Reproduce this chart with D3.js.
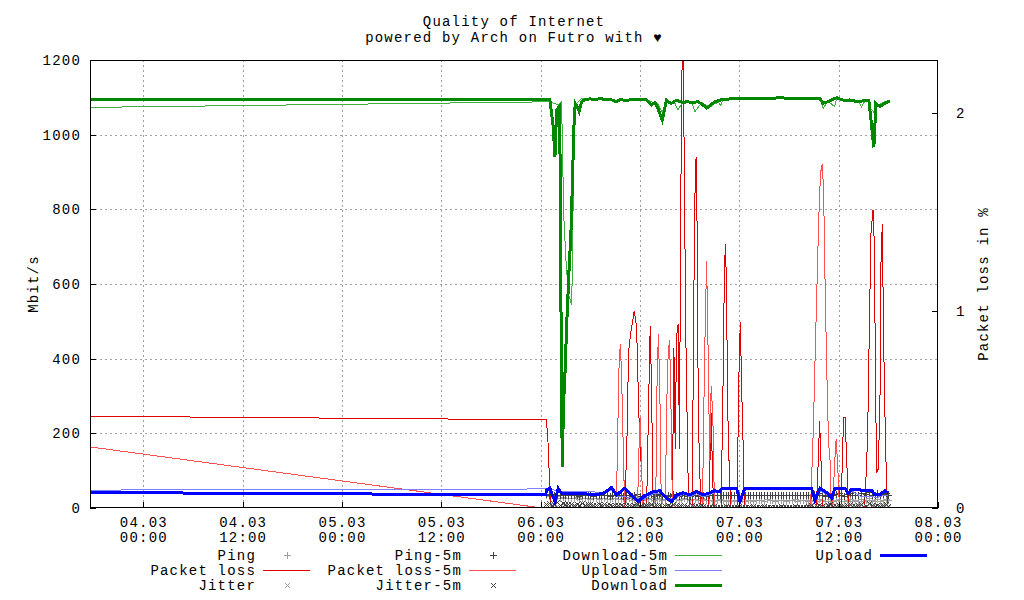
<!DOCTYPE html>
<html>
<head>
<meta charset="utf-8">
<script src="https://cdn.jsdelivr.net/npm/d3@7"></script>
<style>
  body { margin: 0; background: #fff; }
  svg text { font-family: "Liberation Mono", "DejaVu Sans Mono", monospace; font-size: 14px; letter-spacing: 1.2px; fill: #000; }
</style>
</head>
<body>
<div id="chart"></div>
<script>
// all times are hours relative to 06.03 00:00
var baseDate = new Date(2024, 2, 6, 0, 0);
function hrs(h) { return new Date(baseDate.getTime() + h * 3600e3); }

// Download (Mbit/s)
var dlHours = [-54.5, 0.88, 1.12, 1.52, 1.73, 1.93, 2.25, 2.42, 2.45, 2.54, 2.66, 2.73, 2.93, 3.14, 3.45, 3.66, 3.86, 4.02, 4.18, 4.42, 4.66, 4.95, 5.35, 5.95, 6.56, 7.16, 7.77, 8.37, 8.73, 9.18, 9.58, 10.18, 10.78, 11.39, 11.99, 12.72, 13.41, 13.8, 14.17, 14.69, 14.89, 15.22, 15.5, 15.82, 16.22, 16.59, 17.19, 17.67, 18.24, 19.0, 19.48, 20.05, 20.57, 21.05, 21.65, 22.02, 23.47, 25.28, 26.49, 27.69, 28.9, 30.1, 31.31, 32.52, 33.73, 34.13, 34.7, 35.75, 36.75, 37.36, 38.36, 39.17, 39.65, 39.89, 40.17, 40.25, 40.37, 40.49, 40.98, 41.58, 42.19];
var dlValues = [1093, 1093, 1093, 1021, 941, 1066, 1075, 844, 576, 236, 111, 262, 352, 486, 646, 736, 887, 1021, 1084, 1075, 1062, 1088, 1094, 1096, 1093, 1097, 1094, 1095, 1092, 1088, 1094, 1092, 1093, 1094, 1095, 1094, 1080, 1086, 1070, 1039, 1060, 1093, 1086, 1084, 1090, 1091, 1085, 1089, 1086, 1088, 1082, 1071, 1080, 1088, 1092, 1095, 1096, 1097, 1098, 1097, 1099, 1097, 1097, 1096, 1097, 1084, 1088, 1099, 1091, 1093, 1088, 1092, 1091, 1044, 981, 966, 1021, 1084, 1075, 1084, 1091];

// Download-5m
var dl5Hours = [-54.5, 0.88, 1.12, 2.12, 2.54, 2.66, 2.82, 3.06, 3.34, 3.75, 3.82, 3.94, 4.06, 4.35, 4.95, 5.95, 7.16, 8.37, 9.18, 10.18, 11.39, 12.72, 13.41, 14.17, 14.69, 15.22, 16.22, 16.59, 17.19, 18.24, 18.64, 19.48, 20.05, 20.57, 21.05, 21.53, 21.77, 22.02, 26.0, 30.0, 33.73, 34.13, 34.7, 35.51, 35.75, 36.75, 37.36, 38.36, 38.76, 39.17, 39.65, 39.89, 40.25, 40.49, 40.98, 41.58, 42.19];
var dl5Values = [1073, 1088, 1088, 1080, 1088, 932, 771, 664, 576, 544, 629, 843, 1021, 1084, 1097, 1094, 1096, 1094, 1090, 1093, 1096, 1095, 1088, 1082, 1060, 1088, 1084, 1066, 1088, 1088, 1062, 1086, 1078, 1075, 1084, 1086, 1077, 1094, 1097, 1097, 1097, 1071, 1090, 1075, 1097, 1092, 1093, 1090, 1075, 1090, 1090, 1070, 1060, 1075, 1082, 1088, 1090];

// Upload
var ulHours = [-54.5, 0.6, 0.72, 1.12, 1.73, 2.12, 2.54, 3.14, 3.94, 5.15, 6.36, 7.57, 8.57, 9.18, 10.18, 10.78, 11.79, 12.4, 13.6, 14.41, 15.02, 15.82, 16.43, 17.23, 18.04, 18.85, 19.65, 20.45, 21.05, 21.65, 21.9, 23.68, 24.07, 24.68, 32.72, 33.13, 33.73, 34.74, 35.14, 35.55, 36.75, 37.15, 37.56, 38.77, 39.98, 40.37, 40.98, 41.58, 41.99];
var ulValues = [41.5, 35, 48, 53, 17, 53, 39, 39, 37.5, 39, 35, 39, 55, 35, 53, 39, 17, 30, 44, 46, 30, 17, 35, 41, 35, 44, 35, 41, 46, 44, 53, 53, 17, 53, 53, 21, 53, 39, 26, 53, 53, 39, 50, 48, 48, 35, 37, 46, 41];

// Upload-5m
var ul5Hours = [-54.5, 0.6, 1.12, 2.12, 3.14, 5.15, 7.57, 8.57, 9.18, 10.18, 11.79, 12.4, 13.6, 14.41, 15.02, 15.82, 16.43, 17.23, 18.04, 18.85, 19.65, 20.45, 21.65, 21.9, 23.68, 24.07, 24.68, 32.72, 33.13, 33.73, 34.74, 35.14, 35.55, 36.75, 37.15, 37.56, 38.77, 39.98, 40.37, 40.98, 41.58, 41.99];
var ul5Values = [48, 51, 50, 46, 44, 44, 42, 48, 30, 30, 25, 22, 38, 40, 28, 24, 28, 36, 30, 38, 30, 36, 46, 52, 52, 30, 52, 52, 22, 45, 35, 28, 48, 50, 35, 46, 30, 32, 28, 30, 35, 32];

// Packet loss (%)
var plHours = [-54.5, 0.7, 0.93, 1.05, 1.2, 10.18, 10.46, 10.62, 10.88, 11.1, 11.3, 11.59, 11.8, 11.92, 12.2, 12.4, 12.8, 13.08, 13.24, 13.4, 13.6, 15.9, 16.1, 16.26, 16.42, 16.6, 16.78, 16.9, 17.02, 17.15, 17.3, 17.42, 17.55, 17.8, 18.0, 18.3, 18.55, 18.65, 18.78, 18.9, 19.0, 19.13, 19.35, 20.3, 20.5, 20.6, 20.75, 20.9, 21.8, 21.95, 22.05, 22.2, 22.33, 22.45, 22.6, 22.8, 23.0, 23.75, 23.9, 24.12, 24.3, 24.45, 24.6, 33.3, 33.5, 33.7, 33.9, 34.05, 36.3, 36.5, 36.62, 36.78, 36.92, 37.05, 37.2, 39.1, 39.3, 39.5, 39.7, 39.9, 40.15, 40.33, 40.45, 40.62, 40.8, 41.0, 41.12, 41.27, 41.42, 41.55, 41.75, 41.9, 42.19];
var plValues = [0.465, 0.447, 0.31, 0.16, 0, 0, 0.4, 0.79, 0.89, 0.94, 1.0, 0.92, 0.58, 0.41, 0.18, 0, 0, 0.6, 0.92, 0.6, 0, 0, 0.81, 0.3, 0.87, 0.93, 0.3, 1.41, 1.98, 2.5, 1.98, 1.41, 0.84, 0.18, 0, 0, 1.26, 1.6, 1.78, 1.43, 0.75, 0.33, 0, 0, 0.3, 0.48, 0.2, 0, 0, 0.4, 0.67, 1.2, 1.34, 1.12, 0.5, 0.17, 0, 0, 0.58, 0.94, 0.58, 0.34, 0, 0, 0.2, 0.44, 0.2, 0, 0, 0.33, 0.46, 0.46, 0.3, 0.16, 0, 0, 0.15, 0.36, 0.89, 1.39, 1.51, 1.31, 0.58, 0.18, 0.2, 0.58, 1.26, 1.44, 0.9, 0.55, 0.18, 0, 0];

// Packet loss-5m (%)
var pl5Hours = [-54.5, 0.2, 9.05, 9.25, 9.37, 9.5, 9.65, 9.82, 9.98, 10.15, 11.7, 11.88, 12.03, 12.2, 12.35, 13.9, 14.05, 14.22, 14.4, 14.58, 15.05, 15.25, 15.42, 15.58, 15.75, 15.92, 19.55, 19.8, 20.05, 20.25, 20.42, 20.6, 20.8, 21.0, 32.6, 32.75, 32.95, 33.2, 33.5, 33.7, 33.9, 34.05, 34.2, 34.38, 34.58, 34.78, 34.98, 35.12, 35.25, 35.55, 35.7, 35.9, 36.1, 42.19];
var pl5Values = [0.31, 0, 0, 0.21, 0.51, 0.77, 0.83, 0.6, 0.31, 0, 0, 0.3, 0.46, 0.2, 0, 0, 0.6, 0.88, 0.6, 0, 0, 0.55, 0.8, 0.85, 0.5, 0, 0, 0.75, 1.25, 0.75, 0.24, 0.62, 0.47, 0, 0, 0.17, 0.41, 0.84, 1.32, 1.6, 1.73, 1.74, 1.56, 1.09, 0.67, 0.33, 0.23, 0, 0, 0.25, 0.35, 0.2, 0, 0];

// Ping / Jitter (ms), one reading every 20 minutes from 06.03 00:40
var markStart = 0.67, markStep = 1 / 3;
var pingValues = [36, 31, 34, 29, 31, 28, 30, 27,
  28, 26, 27, 29, 25, 27, 26, 28, 24, 26, 27, 25, 26, 28, 24, 25, 27, 26, 23, 25, 26,
  24, 27, 22, 25, 29, 23, 21, 26, 24, 28, 22, 25, 27, 21, 24, 26, 23, 28, 25, 22, 24, 27, 23, 21, 25, 24, 22, 26, 23, 21,
  21, 22, 20, 21, 23, 21, 20, 22, 21, 20, 22, 21, 23, 20, 21, 22, 20, 21, 22, 21, 20, 23, 21, 22, 20, 21, 22, 21, 20, 22, 21, 23, 20, 21, 22, 21,
  20, 18, 22, 19, 24, 21, 18, 20, 23, 19, 21, 25, 20, 18, 22, 24, 19, 21, 20, 23, 18, 22, 26, 21, 19, 24, 20, 22, 25, 21];
var ping5Values = [38, 35, 37, 34, 36, 35, 34, 36,
  35, 34, 36, 35, 33, 35, 36, 34, 35, 33, 36, 35, 34, 36, 35, 33, 34, 36, 35, 34, 33,
  34, 36, 31, 35, 38, 33, 30, 36, 34, 37, 32, 35, 38, 31, 34, 36, 33, 37, 35, 32, 34, 36, 33, 31, 35, 34, 32, 36, 34, 33,
  35, 34, 36, 35, 34, 35, 36, 34, 35, 36, 35, 34, 35, 36, 34, 35, 35, 36, 34, 35, 36, 35, 34, 35, 36, 35, 34, 36, 35, 34, 35, 36, 35, 34, 36, 35,
  36, 34, 38, 35, 40, 36, 33, 35, 39, 34, 37, 41, 35, 33, 38, 40, 34, 36, 35, 39, 33, 37, 42, 36, 34, 40, 35, 37, 41, 36];
var jitterValues = [6, 9, 4, 7, 5, 8, 4, 6,
  5, 3, 6, 4, 7, 3, 5, 8, 4, 6, 3, 5, 7, 4, 6, 3, 5, 4, 6, 3, 5,
  4, 7, 3, 5, 9, 4, 2, 6, 5, 8, 3, 4, 7, 2, 5, 6, 3, 8, 4, 3, 5, 7, 3, 2, 6, 4, 3, 5, 4, 2,
  3, 2, 4, 3, 2, 3, 4, 2, 3, 2, 3, 4, 2, 3, 3, 2, 4, 3, 2, 3, 4, 3, 2, 3, 3, 2, 4, 3, 2, 3, 3, 4, 2, 3, 2, 3,
  3, 5, 2, 4, 7, 3, 2, 5, 8, 3, 4, 6, 2, 3, 7, 9, 4, 3, 5, 8, 2, 4, 10, 5, 3, 7, 4, 5, 9, 4];
var jitter5Values = [10, 14, 8, 12, 15, 9, 13, 11,
  10, 12, 8, 11, 9, 13, 7, 10, 12, 8, 9, 11, 7, 10, 8, 9, 6, 8, 7, 9, 6,
  7, 9, 5, 8, 11, 6, 4, 8, 7, 10, 5, 7, 9, 4, 6, 8, 5, 10, 7, 5, 6, 9, 5, 4, 7, 6, 5, 8, 6, 4,
  4, 3, 5, 4, 3, 4, 5, 3, 4, 3, 4, 5, 3, 4, 4, 3, 5, 4, 3, 4, 5, 4, 3, 4, 4, 3, 5, 4, 3, 4, 4, 5, 3, 4, 3, 4,
  5, 7, 4, 6, 9, 5, 4, 7, 10, 5, 6, 8, 4, 5, 9, 12, 6, 5, 7, 11, 4, 6, 13, 7, 5, 9, 6, 7, 12, 6];

var yTicks = [0, 200, 400, 600, 800, 1000, 1200];
var y2Ticks = [0, 1, 2];

var width = 1024, height = 600;
var margin = {top: 60, right: 86, bottom: 92, left: 90};
var plotW = width - margin.left - margin.right;
var plotH = height - margin.top - margin.bottom;

var x = d3.scaleTime().domain([hrs(-54.43), hrs(48)]).range([0, plotW]);
var y = d3.scaleLinear().domain([0, 1200]).range([plotH, 0]);
var y2 = d3.scaleLinear().domain([0, 2.27]).range([plotH, 0]);

var svg = d3.select("#chart").append("svg")
    .attr("width", width).attr("height", height);

// title
svg.append("text").attr("x", 514).attr("y", 26).attr("text-anchor", "middle").text("Quality of Internet");
svg.append("text").attr("x", 514).attr("y", 42).attr("text-anchor", "middle").text("powered by Arch on Futro with \u2665");

var g = svg.append("g").attr("transform", "translate(" + margin.left + "," + margin.top + ")");

g.append("clipPath").attr("id", "clip")
  .append("rect").attr("width", plotW).attr("height", plotH);

// grid
var xTicks = x.ticks(d3.timeHour.every(12)).filter(function(d) { return x(d) > 1 && x(d) < plotW - 1; });
g.selectAll(".gx").data(xTicks).enter().append("line")
  .attr("x1", function(d) { return Math.round(x(d)) + 0.5; })
  .attr("x2", function(d) { return Math.round(x(d)) + 0.5; })
  .attr("y1", 0).attr("y2", plotH)
  .attr("stroke", "#a0a0a0").attr("stroke-dasharray", "2,3");
g.selectAll(".gy").data(yTicks.slice(1, -1)).enter().append("line")
  .attr("x1", 0).attr("x2", plotW)
  .attr("y1", function(d) { return Math.round(y(d)) + 0.5; })
  .attr("y2", function(d) { return Math.round(y(d)) + 0.5; })
  .attr("stroke", "#a0a0a0").attr("stroke-dasharray", "2,3");

var plot = g.append("g").attr("clip-path", "url(#clip)");

function pts(hours, values) {
  return hours.map(function(h, i) { return {t: hrs(h), v: values[i]}; });
}
function marks(values) {
  return values.map(function(v, i) { return {t: hrs(markStart + i * markStep), v: v}; });
}

var lineY = d3.line().x(function(d) { return x(d.t); }).y(function(d) { return y(d.v); });
var lineY2 = d3.line().x(function(d) { return x(d.t); }).y(function(d) { return y2(d.v); });

var plusPath = "M-3,0.5H4M0.5,-3V4";
var crossPath = "M-2,-2L3,3M-2,3L3,-2";

function drawMarks(data, path, color) {
  plot.append("g").selectAll("path").data(data).enter().append("path")
    .attr("transform", function(d) { return "translate(" + Math.round(x(d.t)) + "," + Math.round(y(d.v)) + ")"; })
    .attr("d", path).attr("stroke", color).attr("stroke-width", 1).attr("fill", "none")
    .attr("shape-rendering", "crispEdges");
}
function drawLine(data, gen, color, w) {
  plot.append("path").datum(data).attr("d", gen)
    .attr("fill", "none").attr("stroke", color).attr("stroke-width", w)
    .attr("shape-rendering", "crispEdges");
}

var series = [
  {name: "Ping", type: "mark", path: plusPath, color: "#a0a0a0", data: marks(pingValues)},
  {name: "Packet loss", type: "line", gen: lineY2, color: "#e00000", w: 1, data: pts(plHours, plValues)},
  {name: "Jitter", type: "mark", path: crossPath, color: "#a0a0a0", data: marks(jitterValues)},
  {name: "Ping-5m", type: "mark", path: plusPath, color: "#404040", data: marks(ping5Values)},
  {name: "Packet loss-5m", type: "line", gen: lineY2, color: "#ff5050", w: 1, data: pts(pl5Hours, pl5Values)},
  {name: "Jitter-5m", type: "mark", path: crossPath, color: "#404040", data: marks(jitter5Values)},
  {name: "Download-5m", type: "line", gen: lineY, color: "#40b040", w: 1, data: pts(dl5Hours, dl5Values)},
  {name: "Upload-5m", type: "line", gen: lineY, color: "#8080ff", w: 1, data: pts(ul5Hours, ul5Values)},
  {name: "Download", type: "line", gen: lineY, color: "#008800", w: 3, data: pts(dlHours, dlValues)},
  {name: "Upload", type: "line", gen: lineY, color: "#0000ff", w: 3, data: pts(ulHours, ulValues)}
];

series.forEach(function(s) {
  if (s.type == "mark") drawMarks(s.data, s.path, s.color);
  else drawLine(s.data, s.gen, s.color, s.w);
});

// border
g.append("rect").attr("x", 0.5).attr("y", 0.5).attr("width", plotW - 1).attr("height", plotH - 1)
  .attr("fill", "none").attr("stroke", "#000");

// left axis
g.selectAll(".ty").data(yTicks).enter().append("line")
  .attr("x1", 0).attr("x2", 6)
  .attr("y1", function(d) { return Math.round(y(d)) + 0.5; })
  .attr("y2", function(d) { return Math.round(y(d)) + 0.5; })
  .attr("stroke", "#000");
g.selectAll(".ly").data(yTicks).enter().append("text")
  .attr("x", -9).attr("y", function(d) { return y(d); }).attr("dy", "0.35em")
  .attr("text-anchor", "end").text(function(d) { return d; });

// right axis
g.selectAll(".ty2").data(y2Ticks).enter().append("line")
  .attr("x1", plotW - 6).attr("x2", plotW)
  .attr("y1", function(d) { return Math.round(y2(d)) + 0.5; })
  .attr("y2", function(d) { return Math.round(y2(d)) + 0.5; })
  .attr("stroke", "#000");
g.selectAll(".ly2").data(y2Ticks).enter().append("text")
  .attr("x", plotW + 18).attr("y", function(d) { return y2(d); }).attr("dy", "0.35em")
  .text(function(d) { return d; });

// bottom axis
var allX = x.ticks(d3.timeHour.every(12));
g.selectAll(".tx").data(allX).enter().append("line")
  .attr("x1", function(d) { return Math.round(x(d)) + 0.5; })
  .attr("x2", function(d) { return Math.round(x(d)) + 0.5; })
  .attr("y1", plotH).attr("y2", plotH - 6)
  .attr("stroke", "#000");
var fmtDay = d3.timeFormat("%d.%m"), fmtHour = d3.timeFormat("%H:%M");
var xl = g.selectAll(".lx").data(allX).enter().append("text")
  .attr("text-anchor", "middle")
  .attr("transform", function(d) { return "translate(" + (x(d) + 0.6) + "," + (plotH + 19) + ")"; });
xl.append("tspan").attr("x", 0).attr("y", 0).text(fmtDay);
xl.append("tspan").attr("x", 0).attr("y", 15).text(fmtHour);

// axis titles
svg.append("text").attr("transform", "translate(38,284) rotate(-90)")
  .attr("text-anchor", "middle").text("Mbit/s");
svg.append("text").attr("transform", "translate(988,284) rotate(-90)")
  .attr("text-anchor", "middle").text("Packet loss in %");

// legend, filled column by column, 3 rows
var legCols = [255, 461, 667, 872];
var legRows = [555, 570, 585];
var leg = svg.append("g");
series.forEach(function(s, i) {
  var cx = legCols[Math.floor(i / 3)], cy = legRows[i % 3];
  leg.append("text").attr("x", cx + 1).attr("y", cy).attr("dy", "0.35em")
    .attr("text-anchor", "end").text(s.name);
  if (s.type == "mark") {
    leg.append("path").attr("transform", "translate(" + (cx + 32) + "," + cy + ")")
      .attr("d", s.path).attr("stroke", s.color).attr("fill", "none")
      .attr("shape-rendering", "crispEdges");
  } else {
    leg.append("line").attr("x1", cx + 8).attr("x2", cx + 55)
      .attr("y1", cy + 0.5).attr("y2", cy + 0.5)
      .attr("stroke", s.color).attr("stroke-width", s.w)
      .attr("shape-rendering", "crispEdges");
  }
});
</script>
</body>
</html>
